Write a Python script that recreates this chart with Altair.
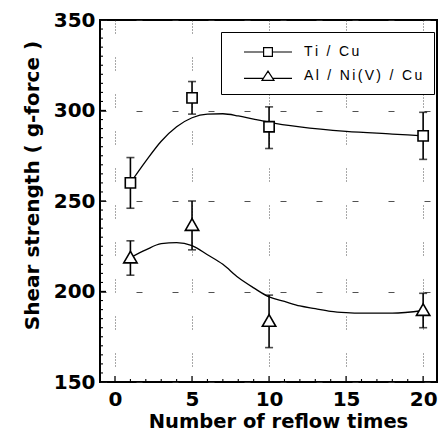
import altair as alt
import pandas as pd

series_names = ["Ti / Cu", "Al / Ni(V) / Cu"]
reflow = [1, 5, 10, 20]

ti_mean = [260, 307, 291, 286]
ti_lo = [246, 298, 279, 273]
ti_hi = [274, 316, 302, 299]

al_mean = [219, 237, 184, 190]
al_lo = [209, 223, 169, 180]
al_hi = [228, 250, 198, 199]

# fitted smooth curves
ti_fit_x = [1, 2, 3, 4, 5, 6, 7, 8, 9, 10, 12, 15, 18, 20]
ti_fit_y = [260, 272, 283, 291, 296, 298, 298.2, 297, 295.2, 293.5, 291, 288.5, 287, 286]
al_fit_x = [1, 2, 3, 4, 5, 6, 7, 8, 9, 10, 11, 12, 13, 14, 15, 16, 18, 20]
al_fit_y = [218.7, 223, 226.4, 227, 225.3, 220.3, 215, 207.7, 202, 197, 194.5, 192,
            190.5, 189, 188.3, 188, 188, 189.5]

x_major = [0, 5, 10, 15, 20]
x_minor = [v for v in range(0, 21) if v % 5 != 0]
y_major = [150, 200, 250, 300, 350]
y_minor = [v for v in range(155, 350, 5) if v % 50 != 0]

pts = pd.DataFrame({
    "series": [series_names[0]] * 4 + [series_names[1]] * 4,
    "x": reflow + reflow,
    "y": ti_mean + al_mean,
    "lo": ti_lo + al_lo,
    "hi": ti_hi + al_hi,
})
fit = pd.DataFrame({
    "series": [series_names[0]] * len(ti_fit_x) + [series_names[1]] * len(al_fit_x),
    "x": ti_fit_x + al_fit_x,
    "y": ti_fit_y + al_fit_y,
})

BOLD = "DejaVu Sans"
FONT = "Liberation Sans"
W, H = 337, 362

xscale = alt.Scale(domain=[-0.974, 20.9], nice=False, zero=False)
yscale = alt.Scale(domain=[150, 350], nice=False, zero=False)

xaxis = alt.Axis(
    values=x_major, title="Number of reflow times", labelOverlap=False,
    labelFont=BOLD, labelFontSize=20, labelFontWeight="bold", labelColor="black",
    titleFont=BOLD, titleFontSize=19.5, titleFontWeight="bold", titleColor="black",
    titlePadding=3, labelPadding=7, ticks=False, domain=False, titleX=178,
    grid=True, gridColor="#333", gridOpacity=0.85,
    gridDash=[1, 2, 1, 2, 1, 2, 1, 2, 1, 24], gridWidth=1,
)
yaxis = alt.Axis(
    values=y_major, title="Shear strength ( g-force )", labelOverlap=False,
    labelFont=BOLD, labelFontSize=20, labelFontWeight="bold", labelColor="black",
    titleFont=BOLD, titleFontSize=20, titleFontWeight="bold", titleColor="black",
    titlePadding=11, labelPadding=5, ticks=False, domain=False, titleY=165,
    grid=True, gridColor="#333", gridOpacity=0.85,
    gridDash=[6, 30], gridWidth=1,
)

lines = alt.Chart(fit).mark_line(color="black", strokeWidth=1.3, interpolate="monotone").encode(
    x=alt.X("x:Q", scale=xscale, axis=xaxis),
    y=alt.Y("y:Q", scale=yscale, axis=yaxis),
    detail="series:N",
)

# inward ticks
xt_major = alt.Chart(pd.DataFrame({"t": x_major})).mark_rule(color="black", strokeWidth=1.3).encode(
    x=alt.X("t:Q", scale=xscale), y=alt.value(H), y2=alt.value(H - 6))
xt_minor = alt.Chart(pd.DataFrame({"t": x_minor})).mark_rule(color="black", strokeWidth=1.1).encode(
    x=alt.X("t:Q", scale=xscale), y=alt.value(H), y2=alt.value(H - 3))
yt_major = alt.Chart(pd.DataFrame({"t": y_major})).mark_rule(color="black", strokeWidth=1.3).encode(
    y=alt.Y("t:Q", scale=yscale), x=alt.value(0), x2=alt.value(6))
yt_minor = alt.Chart(pd.DataFrame({"t": y_minor})).mark_rule(color="black", strokeWidth=1.1).encode(
    y=alt.Y("t:Q", scale=yscale), x=alt.value(0), x2=alt.value(3))

err = alt.Chart(pts).mark_rule(color="black", strokeWidth=1.6).encode(
    x=alt.X("x:Q", scale=xscale), y=alt.Y("lo:Q", scale=yscale), y2="hi:Q"
)
cap_lo = alt.Chart(pts).mark_tick(color="black", thickness=1.6, size=8, orient="horizontal").encode(
    x=alt.X("x:Q", scale=xscale), y=alt.Y("lo:Q", scale=yscale)
)
cap_hi = alt.Chart(pts).mark_tick(color="black", thickness=1.6, size=8, orient="horizontal").encode(
    x=alt.X("x:Q", scale=xscale), y=alt.Y("hi:Q", scale=yscale)
)

points = alt.Chart(pts).mark_point(filled=True, fill="white", stroke="black", strokeWidth=1.6, opacity=1).encode(
    x=alt.X("x:Q", scale=xscale), y=alt.Y("y:Q", scale=yscale),
    shape=alt.Shape("series:N", scale=alt.Scale(domain=series_names, range=["square", "triangle-up"]), legend=None),
    size=alt.Size("series:N", scale=alt.Scale(domain=series_names, range=[105, 180]), legend=None),
)

sym_sq = "M-3,0H-0.55M0.55,0H3M-0.55,-0.55H0.55V0.55H-0.55Z"
sym_tr = "M-3,0.3H-0.62M0.62,0.3H3M0,-0.6L0.75,0.55H-0.75Z"

legend_layer = alt.Chart(pts).mark_point(opacity=0, size=256).encode(
    x=alt.X("x:Q", scale=xscale), y=alt.Y("y:Q", scale=yscale),
    shape=alt.Shape("series:N", scale=alt.Scale(domain=series_names, range=[sym_sq, sym_tr]),
                    legend=alt.Legend(
                        title=None, orient="none", legendX=121, legendY=12,
                        strokeColor="black", fillColor="white", padding=11,
                        symbolOpacity=1, symbolFillColor="white", symbolStrokeColor="black",
                        symbolStrokeWidth=1.2, symbolSize=256, symbolOffset=27,
                        labelOffset=27, labelFont=FONT, labelFontSize=14, labelColor="black",
                        rowPadding=8,
                        labelExpr="join(split(datum.label, ''), '\u2006') + '\u00a0\u00a0\u00a0\u00a0'",
                    )),
)

chart = alt.layer(lines, xt_major, xt_minor, yt_major, yt_minor, err, cap_lo, cap_hi,
                  points, legend_layer).resolve_scale(
    shape="independent", size="independent"
).properties(
    width=W, height=H,
    autosize=alt.AutoSizeParams(type="none"),
    padding={"left": 92, "top": 12, "right": 1, "bottom": 54},
).configure_view(stroke="black", strokeWidth=2)

chart.save("out.html", embed_options={"renderer": "svg", "actions": False})
